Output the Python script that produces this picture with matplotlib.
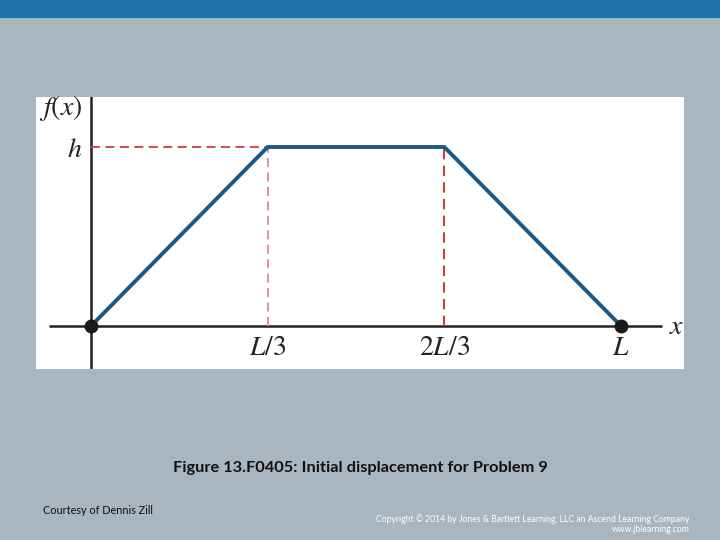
import matplotlib.pyplot as plt
from matplotlib.patches import Rectangle

plt.rcParams['mathtext.fontset'] = 'stix'

# Data (x in units of L, f in units of h)
x_pts = [0, 1/3, 2/3, 1]
f_pts = [0, 1, 1, 0]
x_ticks = [1/3, 2/3, 1]
x_tick_labels = [r'$L/3$', r'$2L/3$', r'$L$']
caption = 'Figure 13.F0405: Initial displacement for Problem 9'
credit = 'Courtesy of Dennis Zill'
copyright_lines = ['Copyright \u00a9 2014 by Jones & Bartlett Learning, LLC an Ascend Learning Company',
                   'www.jblearning.com']

bg = '#a9b5bf'
fig = plt.figure(figsize=(7.2, 5.4), dpi=100, facecolor=bg)

# Blue top bar
fig.patches.append(Rectangle((0, 1 - 18/540), 1, 18/540, transform=fig.transFigure,
                             facecolor='#1f74ad', edgecolor='none'))

# White panel with the plot
ax = fig.add_axes([36/720, (540-369)/540, 648/720, 272/540])
ax.set_facecolor('white')
for s in ax.spines.values():
    s.set_visible(False)
ax.set_xticks([])
ax.set_yticks([])
ax.set_xlim((36-91)/530, (684-91)/530)
ax.set_ylim((326-369)/179, (326-97)/179)

# axes lines
ax.plot([0, 0], [-0.3, 1.4], color='#222222', lw=1.8, solid_capstyle='butt')
ax.plot([-0.08, 1.077], [0, 0], color='#222222', lw=1.8, solid_capstyle='butt')

# dashed guides
ax.plot([0, x_pts[1]], [f_pts[1], f_pts[1]], color='#d43c3c', lw=1.3, ls=(0, (5, 3)))
ax.plot([x_pts[1], x_pts[1]], [0, f_pts[1]], color='#e08a8a', lw=1.3, ls=(0, (5, 3)))
ax.plot([x_pts[2], x_pts[2]], [0, f_pts[2]], color='#d43c3c', lw=1.5, ls=(0, (5, 3)))

# trapezoid
ax.plot(x_pts, f_pts, color='#1b5887', lw=2.8, solid_joinstyle='miter')
ax.plot([x_pts[0], x_pts[-1]], [f_pts[0], f_pts[-1]], 'o', color='#1a1a1a', ms=9, zorder=5)

# labels
for xt, lab in zip(x_ticks, x_tick_labels):
    ax.text(xt, -0.12, lab, fontsize=20, ha='center', va='center', color='#222222')
ax.text(1.105, 0, r'$x$', fontsize=20, ha='center', va='center', color='#222222')
ax.text(-0.058, 1.22, r'$f(x)$', fontsize=20, ha='center', va='center', color='#222222')
ax.text(-0.03, 0.99, r'$h$', fontsize=20, ha='center', va='center', color='#222222')

# text on slide
fig.text(0.5, 1 - 468/540, caption, fontsize=11.8, family='Lato', weight='bold', ha='center',
         va='center', color='#111111')
fig.text(43/720, 1 - 511/540, credit, fontsize=7.8, family='Lato', ha='left', va='center',
         color='#111111')
fig.text(690/720, 1 - 519/540, copyright_lines[0], fontsize=6.2, family='Lato', ha='right',
         va='center', color='white')
fig.text(690/720, 1 - 530/540, copyright_lines[1], fontsize=6.2, family='Lato', ha='right',
         va='center', color='white')

fig.savefig('out.png', dpi=100, facecolor=bg)
